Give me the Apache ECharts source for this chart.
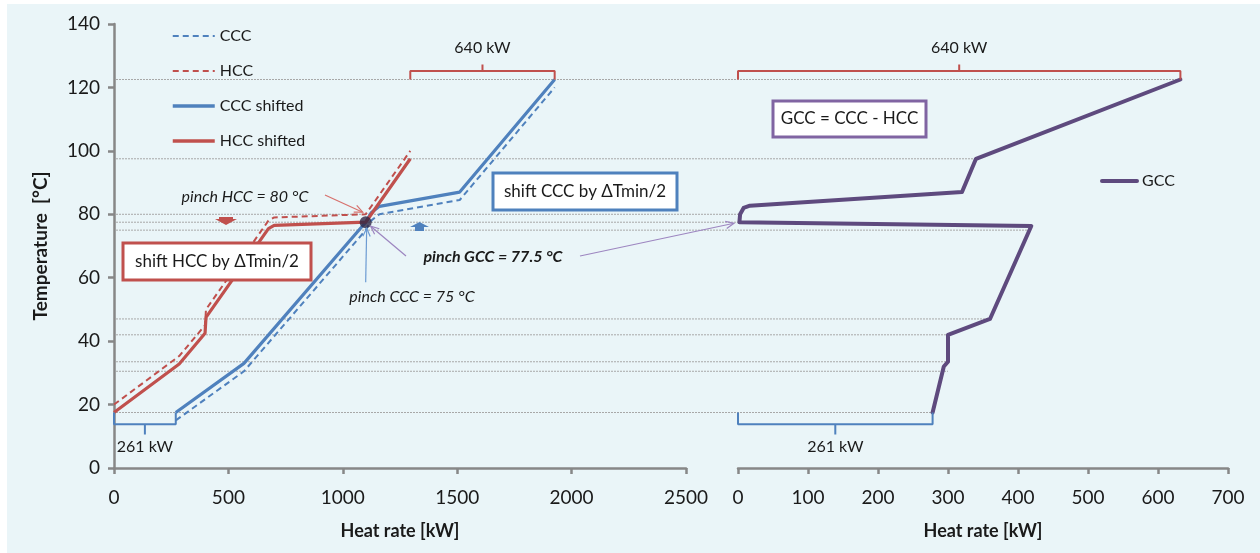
<!DOCTYPE html>
<html>
<head>
<meta charset="utf-8">
<title>Composite curves and GCC</title>
<script src="https://cdn.jsdelivr.net/npm/echarts@6/dist/echarts.min.js"></script>
<style>
  html, body { margin: 0; padding: 0; background: #fff; }
  #bg { position: absolute; left: 7px; top: 4px; width: 1253px; height: 549px; background: #eaf5f8; }
  #chart { position: absolute; left: 0; top: 0; width: 1260px; height: 553px; }
</style>
</head>
<body>
<div id="bg"></div>
<div id="chart"></div>
<script>
// composite curves, heat rate in kW, temperatures in °C
var coldQ = [270, 568, 1100, 1124, 1160, 1511, 1926];
var cccT = [15, 30.5, 75, 78, 80, 84.5, 120];
var cccShiftedT = [17.5, 33, 77.5, 80.5, 82.5, 87, 122.5];

var hotQ = [0, 285, 398, 402, 675, 700, 1100, 1295];
var hccT = [20, 35.3, 45, 50, 78, 79, 80, 100];
var hccShiftedT = [17.5, 32.8, 42.5, 47.5, 75.5, 76.5, 77.5, 97.5];

// grand composite curve
var gccQ = [278, 294, 300, 300, 360, 419, 2, 3, 8, 17, 320, 340, 632];
var gccT = [17.5, 32, 33.5, 42, 47, 76.3, 77.5, 80, 82, 82.7, 87, 97.5, 122.5];

var pinch = [1100, 77.5];

// shifted temperature intervals (dotted lines) and where they meet the GCC
var intervalT = [122.5, 97.5, 80, 77.5, 75, 47, 42, 33.5, 30.5, 17.5];
var intervalEndQ = [632, 340, 3, 2, 416, 360, 300, 300, 300, 278];

var hotUtilityLabel = '640 kW';
var coldUtilityLabel = '261 kW';

var FONT = 'Lato, "Open Sans", sans-serif';
var BLUE = '#4f81bd';
var RED = '#c0504d';
var PURPLE = '#5e4a7e';
var AXIS = '#878787';
var TXT = '#1a1a1a';

function zip(q, t) {
  return q.map(function (v, i) { return [v, t[i]]; });
}

// bracket between x0 and x1, tick in the middle
function bracket(x0, x1, base, arm, tip) {
  var xm = (x0 + x1) / 2;
  return [[x0, base], [x0, arm], [xm, arm], [xm, tip], [xm, arm], [x1, arm], [x1, base]];
}

function bracketSeries(axis, data, color) {
  return {
    type: 'line', xAxisIndex: axis, yAxisIndex: axis, data: data,
    symbol: 'none', silent: true, z: 4,
    lineStyle: { color: color, width: 2 },
    itemStyle: { color: color }
  };
}

var axisLineStyle = { color: AXIS, width: 2.5 };
var plain = function (v) { return String(v); };

var hotBracketL = bracket(hotQ[hotQ.length - 1], coldQ[coldQ.length - 1], 122.5, 125.2, 127.2);
var hotBracketR = bracket(0, gccQ[gccQ.length - 1], 122.5, 125.2, 127.2);
var coldBracketL = bracket(0, coldQ[0], 17.5, 13.8, 10.6);
var coldBracketR = bracket(0, gccQ[0], 17.5, 13.8, 10.6);

var option = {
  animation: false,
  grid: [
    { left: 114, top: 24, width: 572, height: 444 },
    { left: 738, top: 24, width: 490, height: 444 }
  ],
  legend: [
    {
      data: [
        { name: 'CCC', lineStyle: { width: 2 } },
        { name: 'HCC', lineStyle: { width: 2 } },
        { name: 'CCC shifted', lineStyle: { width: 3.5 } },
        { name: 'HCC shifted', lineStyle: { width: 3.5 } }
      ],
      orient: 'vertical', left: 166, top: 23,
      itemWidth: 42, itemHeight: 14, itemGap: 19,
      itemStyle: { opacity: 0 },
      textStyle: { fontSize: 16, color: TXT, fontFamily: FONT }
    },
    {
      data: [{ name: 'GCC', lineStyle: { width: 4 } }], left: 1095, top: 168,
      itemWidth: 35, itemHeight: 14, itemGap: 2,
      itemStyle: { opacity: 0 },
      textStyle: { fontSize: 16, color: TXT, fontFamily: FONT }
    }
  ],
  xAxis: [
    {
      type: 'value', gridIndex: 0, min: 0, max: 2500, interval: 500,
      name: 'Heat rate [kW]', nameLocation: 'middle', nameGap: 54,
      nameTextStyle: { fontSize: 18, fontWeight: 'bold', color: TXT, fontFamily: FONT },
      axisLine: { show: true, onZero: false, lineStyle: axisLineStyle },
      axisTick: { show: true, length: 6, lineStyle: axisLineStyle },
      axisLabel: { fontSize: 19, color: TXT, margin: 20, fontFamily: FONT, formatter: plain },
      splitLine: { show: false }
    },
    {
      type: 'value', gridIndex: 1, min: 0, max: 700, interval: 100,
      name: 'Heat rate [kW]', nameLocation: 'middle', nameGap: 54,
      nameTextStyle: { fontSize: 18, fontWeight: 'bold', color: TXT, fontFamily: FONT },
      axisLine: { show: true, onZero: false, lineStyle: axisLineStyle },
      axisTick: { show: true, length: 6, lineStyle: axisLineStyle },
      axisLabel: { fontSize: 19, color: TXT, margin: 20, fontFamily: FONT, formatter: plain },
      splitLine: { show: false }
    }
  ],
  yAxis: [
    {
      type: 'value', gridIndex: 0, min: 0, max: 140, interval: 20,
      name: 'Temperature  [°C]', nameLocation: 'middle', nameGap: 64,
      nameTextStyle: { fontSize: 19, fontWeight: 'bold', color: TXT, fontFamily: FONT },
      axisLine: { show: true, lineStyle: axisLineStyle },
      axisTick: { show: true, length: 6, lineStyle: axisLineStyle },
      axisLabel: { fontSize: 19, color: TXT, margin: 14, fontFamily: FONT, formatter: plain },
      splitLine: { show: false }
    },
    {
      type: 'value', gridIndex: 1, min: 0, max: 140, interval: 20, show: false,
      splitLine: { show: false }
    }
  ],
  series: [
    {
      name: 'CCC', type: 'line', xAxisIndex: 0, yAxisIndex: 0,
      data: zip(coldQ, cccT), symbol: 'none', z: 3,
      lineStyle: { color: BLUE, width: 2, type: [6, 4] }, itemStyle: { color: BLUE }
    },
    {
      name: 'HCC', type: 'line', xAxisIndex: 0, yAxisIndex: 0,
      data: zip(hotQ, hccT), symbol: 'none', z: 3,
      lineStyle: { color: RED, width: 2, type: [6, 4] }, itemStyle: { color: RED }
    },
    {
      name: 'CCC shifted', type: 'line', xAxisIndex: 0, yAxisIndex: 0,
      data: zip(coldQ, cccShiftedT), symbol: 'none', z: 4,
      lineStyle: { color: BLUE, width: 3.2 }, itemStyle: { color: BLUE }
    },
    {
      name: 'HCC shifted', type: 'line', xAxisIndex: 0, yAxisIndex: 0,
      data: zip(hotQ, hccShiftedT), symbol: 'none', z: 4,
      lineStyle: { color: RED, width: 3.2 }, itemStyle: { color: RED }
    },
    {
      name: 'GCC', type: 'line', xAxisIndex: 1, yAxisIndex: 1,
      data: zip(gccQ, gccT), symbol: 'none', z: 4,
      lineStyle: { color: PURPLE, width: 4, join: 'round', cap: 'round' }, itemStyle: { color: PURPLE }
    },
    {
      type: 'scatter', xAxisIndex: 0, yAxisIndex: 0, data: [pinch],
      symbolSize: 12, itemStyle: { color: '#2e2745' }, z: 10, silent: true
    },
    bracketSeries(0, hotBracketL, RED),
    bracketSeries(1, hotBracketR, RED),
    bracketSeries(0, coldBracketL, BLUE),
    bracketSeries(1, coldBracketR, BLUE)
  ]
};

var chart = echarts.init(document.getElementById('chart'));
chart.setOption(option);

// annotations
function arrow(x1, y1, x2, y2, color) {
  var a = Math.atan2(y2 - y1, x2 - x1), L = 9, w = 0.42;
  return [
    { type: 'line', z: 60, silent: true, shape: { x1: x1, y1: y1, x2: x2, y2: y2 },
      style: { stroke: color, lineWidth: 1.2 } },
    { type: 'polyline', z: 60, silent: true,
      shape: { points: [[x2 - L * Math.cos(a - w), y2 - L * Math.sin(a - w)], [x2, y2],
                        [x2 - L * Math.cos(a + w), y2 - L * Math.sin(a + w)]] },
      style: { stroke: color, lineWidth: 1.2, fill: null } }
  ];
}

function box(x, y, w, h, color, text) {
  return [
    { type: 'rect', z: 50, silent: true, shape: { x: x, y: y, width: w, height: h },
      style: { fill: '#fff', stroke: color, lineWidth: 3 } },
    { type: 'text', z: 51, silent: true, x: x + w / 2, y: y + h / 2,
      style: { text: text, fill: TXT, font: '17px ' + FONT, align: 'center', verticalAlign: 'middle',
               textAlign: 'center', textVerticalAlign: 'middle' } }
  ];
}

function label(x, y, text, font) {
  return { type: 'text', z: 51, silent: true, x: x, y: y,
    style: { text: text, fill: TXT, font: font + ' ' + FONT, align: 'center', verticalAlign: 'middle',
             textAlign: 'center', textVerticalAlign: 'middle' } };
}

// bracket labels sit on the bracket tip
function bracketLabel(grid, pts, text, dy) {
  var tip = chart.convertToPixel({ gridIndex: grid }, pts[3]);
  return label(tip[0], tip[1] + dy, text, '16px');
}

var g = [];
intervalT.forEach(function (t, i) {
  var a = chart.convertToPixel({ gridIndex: 0 }, [0, t]);
  var b = chart.convertToPixel({ gridIndex: 1 }, [intervalEndQ[i], t]);
  g.push({ type: 'line', z: 1, silent: true,
    shape: { x1: a[0] + 2, y1: a[1], x2: b[0], y2: b[1] },
    style: { stroke: '#a8a8a8', lineWidth: 1, lineDash: [2, 1] } });
});

var p = chart.convertToPixel({ gridIndex: 0 }, pinch);
var pg = chart.convertToPixel({ gridIndex: 1 }, [0, pinch[1]]);

g = g.concat(
  box(123, 243, 188, 37, RED, 'shift HCC by ΔTmin/2'),
  box(493, 173, 184, 37, BLUE, 'shift CCC by ΔTmin/2'),
  box(773, 101, 153, 36, '#8064a2', 'GCC = CCC - HCC'),
  [label(245, 197, 'pinch HCC = 80 °C', 'italic 16px'),
   label(412, 297, 'pinch CCC = 75 °C', 'italic 16px'),
   label(493, 257, 'pinch GCC = 77.5 °C', 'italic bold 16px'),
   bracketLabel(0, hotBracketL, hotUtilityLabel, -17),
   bracketLabel(1, hotBracketR, hotUtilityLabel, -17),
   bracketLabel(0, coldBracketL, coldUtilityLabel, 12),
   bracketLabel(1, coldBracketR, coldUtilityLabel, 12)],
  arrow(325, 195, p[0] - 3, p[1] - 10, '#d7716d'),
  arrow(p[0], p[1] + 60, p[0] + 1, p[1] + 6, '#6c9bd2'),
  arrow(406, 256, p[0] + 5, p[1] + 4, '#9d86c0'),
  arrow(580, 256, pg[0] - 4, pg[1] + 1, '#9d86c0'),
  [
    { type: 'polygon', z: 60, silent: true,
      shape: { points: [[219, 217], [233, 217], [233, 219], [237, 219], [226, 225], [215, 219], [219, 219]] },
      style: { fill: RED } },
    { type: 'polygon', z: 60, silent: true,
      shape: { points: [[419.5, 222], [429, 227], [424, 227], [424, 231], [415, 231], [415, 227], [410, 227]] },
      style: { fill: BLUE } }
  ]
);

chart.setOption({ graphic: g });
</script>
</body>
</html>
